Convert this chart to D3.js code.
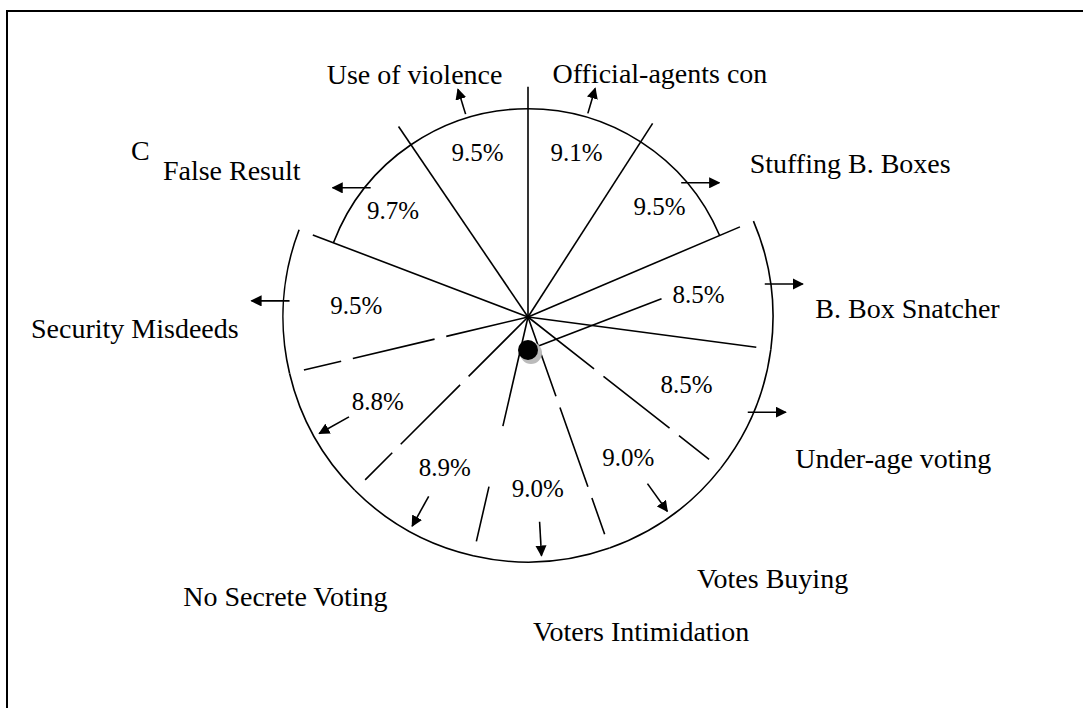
<!DOCTYPE html>
<html>
<head>
<meta charset="utf-8">
<script src="https://cdn.jsdelivr.net/npm/d3@7"></script>
<style>
  body { margin: 0; background: #fff; }
  text { font-family: "Liberation Serif", "DejaVu Serif", serif; fill: #000; }
</style>
</head>
<body>
<svg></svg>
<script>
// slices clockwise from 12 o'clock
const categories = ["Official-agents con", "Stuffing B. Boxes", "B. Box Snatcher",
    "Under-age voting", "Votes Buying", "Voters Intimidation", "No Secrete Voting",
    "", "Security Misdeeds", "False Result", "Use of violence"];
const shares = [9.1, 9.5, 8.5, 8.5, 9.0, 9.0, 8.9, 8.8, 9.5, 9.7, 9.5];

const svgWidth = 1083;
const svgHeight = 708;

const svg = d3.select("svg")
    .attr("width", svgWidth)
    .attr("height", svgHeight);

// frame of the scanned figure
svg.append("rect")
    .attr("x", 7).attr("y", 11)
    .attr("width", 1100).attr("height", 720)
    .attr("fill", "none").attr("stroke", "#000").attr("stroke-width", 2);

const cx = 528, cy = 317, radius = 245;
const g = svg.append("g").attr("transform", "translate(" + cx + "," + cy + ")");

svg.append("defs").append("marker")
    .attr("id", "head")
    .attr("viewBox", "0 -5 10 10")
    .attr("refX", 9).attr("refY", 0)
    .attr("markerWidth", 7).attr("markerHeight", 7)
    .attr("orient", "auto")
    .append("path").attr("d", "M0,-5L10,0L0,5Z").attr("fill", "#000");

const data = categories.map((c, i) => ({name: c, value: shares[i]}));

const pie = d3.pie()
    .sort(null)
    .value(d => d.value);

const arcs = pie(data);
const mid = d => (d.startAngle + d.endAngle) / 2;
const polar = (a, r) => [r * Math.sin(a), -r * Math.cos(a)];

// top slices sit on a smaller rim, like in the hand drawing
const rimOf = d => Math.cos(mid(d)) > 0.6 ? radius * 0.85 : radius;

const rim = d3.arc()
    .innerRadius(d => rimOf(d))
    .outerRadius(d => rimOf(d));

g.selectAll(".rim")
    .data(arcs)
    .enter().append("path")
    .attr("class", "rim")
    .attr("d", rim)
    .attr("fill", "none")
    .attr("stroke", "#000")
    .attr("stroke-width", 1.6);

// slice boundaries
const lowerHalf = a => a > Math.PI * 0.6 && a < Math.PI * 1.45;

g.selectAll(".edge")
    .data(arcs)
    .enter().append("line")
    .attr("class", "edge")
    .attr("x1", 0).attr("y1", 0)
    .attr("x2", d => polar(d.startAngle, radius * 0.94)[0])
    .attr("y2", d => polar(d.startAngle, radius * 0.94)[1])
    .attr("stroke", "#000")
    .attr("stroke-width", 1.6)
    .attr("stroke-dasharray", d => {
        if (!lowerHalf(d.startAngle)) return null;
        return Math.abs(d.startAngle - Math.PI) < 0.3 ? "112,62" : "84,12";
    });

// percentages
const label = d3.arc()
    .innerRadius(172)
    .outerRadius(172);

g.selectAll(".pct")
    .data(arcs)
    .enter().append("text")
    .attr("class", "pct")
    .attr("transform", d => "translate(" + label.centroid(d) + ")")
    .attr("dy", "0.35em")
    .attr("text-anchor", "middle")
    .style("font-size", "25px")
    .text(d => d3.format(".1f")(d.data.value) + "%");

// arrows pointing out to the category names
const absSin = d => Math.abs(Math.sin(mid(d)));
const inner = d => lowerHalf(mid(d)) && absSin(d) < 0.9;
const side = d => absSin(d) > 0.7 && !inner(d);

const arrowEnds = d => {
    const a = mid(d);
    if (side(d)) {
        const p = polar(a, rimOf(d));
        const s = Math.sign(Math.sin(a));
        return [p[0] - s * 6, p[1], p[0] + s * 32, p[1]];
    }
    if (inner(d)) {
        const p = polar(a, radius - 40), q = polar(a, radius - 6);
        return [p[0], p[1], q[0], q[1]];
    }
    const p = polar(a, rimOf(d) + 4), q = polar(a, rimOf(d) + 30);
    return [p[0], p[1], q[0], q[1]];
};

g.selectAll(".arrow")
    .data(arcs)
    .enter().append("line")
    .attr("class", "arrow")
    .attr("x1", d => arrowEnds(d)[0])
    .attr("y1", d => arrowEnds(d)[1])
    .attr("x2", d => arrowEnds(d)[2])
    .attr("y2", d => arrowEnds(d)[3])
    .attr("stroke", "#000")
    .attr("stroke-width", 1.6)
    .attr("marker-end", "url(#head)");

// category names
const nameX = d => 290 * Math.sin(mid(d)) * (absSin(d) < 0.3 ? 0.3 : 1);
const nameY = d => 30 - 285 * Math.cos(mid(d));
const anchor = d => Math.sin(mid(d)) > 0 ? "start" : "end";

g.selectAll(".name")
    .data(arcs.filter(d => d.data.name !== ""))
    .enter().append("text")
    .attr("class", "name")
    .attr("x", nameX)
    .attr("y", nameY)
    .attr("dy", "0.35em")
    .attr("text-anchor", anchor)
    .style("font-size", "28px")
    .text(d => d.data.name);

// leftover glyph of an overwritten label in the scan
const falseRes = arcs.find(d => d.data.name === "False Result");
const frWidth = g.selectAll(".name").filter(d => d === falseRes).node().getComputedTextLength();
g.append("text")
    .attr("x", nameX(falseRes) - frWidth - 32)
    .attr("y", nameY(falseRes) - 20)
    .attr("dy", "0.35em")
    .style("font-size", "28px")
    .text("C");

// dot with its leader to the B. Box Snatcher share
const snatch = arcs[2];
g.append("line")
    .attr("x1", 0).attr("y1", 33)
    .attr("x2", polar(mid(snatch), radius * 0.55)[0])
    .attr("y2", polar(mid(snatch), radius * 0.55)[1])
    .attr("stroke", "#000").attr("stroke-width", 1.6);

g.append("circle")
    .attr("cx", 3).attr("cy", 36).attr("r", 11)
    .attr("fill", "#bbb");
g.append("circle")
    .attr("cx", 0).attr("cy", 33).attr("r", 10)
    .attr("fill", "#000");
</script>
</body>
</html>
